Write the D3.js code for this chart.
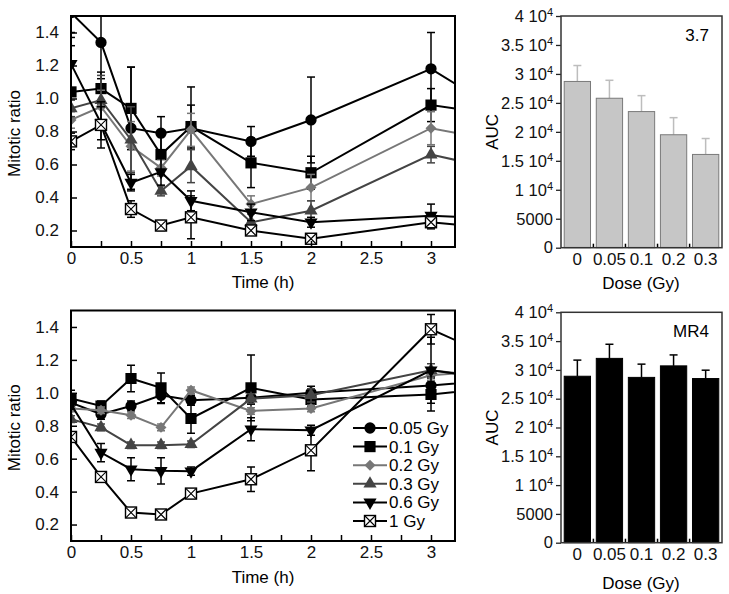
<!DOCTYPE html>
<html>
<head>
<meta charset="utf-8">
<script src="https://cdn.jsdelivr.net/npm/d3@7"></script>
<style>
body { margin: 0; background: #fff; }
svg { font-family: "Liberation Sans", Arial, sans-serif; }
</style>
</head>
<body>
<div id="chart"></div>
<script>
// time points (h); the 4 h point lies outside the visible range and is clipped
var times = [0, 0.25, 0.5, 0.75, 1, 1.5, 2, 3, 4];
var doseNames = ["0.05 Gy", "0.1 Gy", "0.2 Gy", "0.3 Gy", "0.6 Gy", "1 Gy"];

// upper panel (3.7) mitotic ratio
var r37_005 = [1.52, 1.34, 0.82, 0.79, 0.82, 0.74, 0.87, 1.18, 0.73];
var r37_01  = [1.04, 1.06, 0.94, 0.66, 0.83, 0.61, 0.55, 0.96, 0.86];
var r37_02  = [0.87, 0.95, 0.71, 0.58, 0.81, 0.36, 0.46, 0.82, 0.68];
var r37_03  = [0.94, 0.99, 0.75, 0.44, 0.59, 0.25, 0.32, 0.66, 0.50];
var r37_06  = [1.21, 0.85, 0.49, 0.555, 0.38, 0.31, 0.25, 0.29, 0.26];
var r37_1   = [0.74, 0.84, 0.33, 0.23, 0.28, 0.20, 0.15, 0.25, 0.18];
var e37_005 = [0.15, 0.22, 0.37, 0.10, 0.25, 0.09, 0.26, 0.22, 0.2];
var e37_01  = [0.28, 0.10, 0.25, 0.12, 0.13, 0.15, 0.10, 0.10, 0.1];
var e37_02  = [0.05, 0.10, 0.15, 0.05, 0.10, 0.05, 0.08, 0.10, 0.1];
var e37_03  = [0.05, 0.15, 0.20, 0.03, 0.10, 0.05, 0.06, 0.05, 0.05];
var e37_06  = [0.19, 0.10, 0.05, 0.08, 0.06, 0.05, 0.03, 0.07, 0.05];
var e37_1   = [0.05, 0.14, 0.05, 0.03, 0.13, 0.02, 0.02, 0.04, 0.04];

// lower panel (MR4) mitotic ratio
var rMR_005 = [0.94, 0.87, 0.92, 0.985, 0.955, 0.97, 1.0, 1.045, 1.10];
var rMR_01  = [0.965, 0.92, 1.087, 1.03, 0.844, 1.03, 0.96, 0.99, 1.065];
var rMR_02  = [0.905, 0.894, 0.864, 0.79, 1.016, 0.89, 0.905, 1.107, 1.16];
var rMR_03  = [0.84, 0.79, 0.682, 0.682, 0.688, 0.965, 0.985, 1.137, 1.05];
var rMR_06  = [0.93, 0.637, 0.536, 0.526, 0.524, 0.779, 0.773, 1.137, 1.04];
var rMR_1   = [0.732, 0.489, 0.273, 0.261, 0.388, 0.475, 0.651, 1.386, 1.06];
var eMR_005 = [0.05, 0.03, 0.03, 0.05, 0.03, 0.04, 0.04, 0.05, 0.05];
var eMR_01  = [0.05, 0.03, 0.08, 0.09, 0.09, 0.20, 0.04, 0.10, 0.1];
var eMR_02  = [0.02, 0.02, 0.02, 0.02, 0.02, 0.02, 0.02, 0.03, 0.03];
var eMR_03  = [0.02, 0.02, 0.02, 0.02, 0.02, 0.03, 0.04, 0.04, 0.04];
var eMR_06  = [0.03, 0.055, 0.07, 0.08, 0.025, 0.07, 0.03, 0.2, 0.1];
var eMR_1   = [0.03, 0.03, 0.02, 0.02, 0.03, 0.075, 0.125, 0.09, 0.1];

// AUC bars
var doseLabels = ["0", "0.05", "0.1", "0.2", "0.3"];
var auc37     = [28700, 25800, 23500, 19500, 16100];
var auc37Err  = [2750, 3100, 2750, 2950, 2750];
var aucMR4    = [28900, 32000, 28700, 30700, 28500];
var aucMR4Err = [2800, 2450, 2300, 1900, 1450];

var aucTicks = [0, 5000, 10000, 15000, 20000, 25000, 30000, 35000, 40000];
var ratioTicks = [0.2, 0.4, 0.6, 0.8, 1, 1.2, 1.4];
var timeTicks = [0, 0.25, 0.5, 0.75, 1, 1.25, 1.5, 1.75, 2, 2.25, 2.5, 2.75, 3];

// styles per dose
var colors = ["#000", "#000", "#777", "#444", "#000", "#000"];
var symbols = ["circle", "square", "diamond", "up", "down", "box"];

var svg = d3.select("#chart").append("svg")
    .attr("width", 729)
    .attr("height", 594);

function drawMarker(g, kind, color) {
    if (kind == "box") {
        g.append("rect").attr("x", -5.5).attr("y", -5.5).attr("width", 11).attr("height", 11)
            .attr("fill", "#fff").attr("stroke", "#000").attr("stroke-width", 1.4);
        g.append("path").attr("d", "M-5,-5L5,5M5,-5L-5,5")
            .attr("stroke", "#000").attr("stroke-width", 1.1);
        return;
    }
    var sym = d3.symbol();
    var rot = 0;
    if (kind == "circle") sym.type(d3.symbolCircle).size(100);
    if (kind == "square") sym.type(d3.symbolSquare).size(125);
    if (kind == "diamond") { sym.type(d3.symbolSquare).size(60); rot = 45; }
    if (kind == "up") sym.type(d3.symbolTriangle).size(75);
    if (kind == "down") { sym.type(d3.symbolTriangle).size(75); rot = 180; }
    g.append("path").attr("d", sym()).attr("fill", color)
        .attr("transform", "rotate(" + rot + ")");
}

function linePanel(id, top, bottom, values, errors, withLegend, titleGap) {
    var x = d3.scaleLinear().domain([0, 3.2]).range([71, 455]);
    var y = d3.scaleLinear().domain([0.1, 1.5]).range([bottom, top]);

    svg.append("clipPath").attr("id", id)
        .append("rect").attr("x", 71).attr("y", top)
        .attr("width", 384).attr("height", bottom - top);

    var plot = svg.append("g").attr("clip-path", "url(#" + id + ")");

    var line = d3.line().x((d, i) => x(times[i])).y(d => y(d));

    values.forEach(function(vals, s) {
        var g = plot.append("g");
        g.append("path").datum(vals).attr("d", line)
            .attr("fill", "none").attr("stroke", colors[s]).attr("stroke-width", 2);

        var eb = g.selectAll(".err").data(vals).enter().append("g")
            .attr("stroke", colors[s]).attr("stroke-width", 1.5);
        eb.append("line")
            .attr("x1", (d, i) => x(times[i])).attr("x2", (d, i) => x(times[i]))
            .attr("y1", (d, i) => y(d - errors[s][i])).attr("y2", (d, i) => y(d + errors[s][i]));
        eb.append("line")
            .attr("x1", (d, i) => x(times[i]) - 4).attr("x2", (d, i) => x(times[i]) + 4)
            .attr("y1", (d, i) => y(d + errors[s][i])).attr("y2", (d, i) => y(d + errors[s][i]));
        eb.append("line")
            .attr("x1", (d, i) => x(times[i]) - 4).attr("x2", (d, i) => x(times[i]) + 4)
            .attr("y1", (d, i) => y(d - errors[s][i])).attr("y2", (d, i) => y(d - errors[s][i]));

        g.selectAll(".mk").data(vals).enter().append("g")
            .attr("transform", (d, i) => "translate(" + x(times[i]) + "," + y(d) + ")")
            .each(function() { drawMarker(d3.select(this), symbols[s], colors[s]); });
    });

    var xAxis = svg.append("g").attr("transform", "translate(0," + bottom + ")")
        .call(d3.axisBottom(x).tickValues(timeTicks).tickSize(-6).tickPadding(5)
            .tickFormat(d => (d * 2) % 1 == 0 ? d : ""));
    var yAxis = svg.append("g").attr("transform", "translate(71,0)")
        .call(d3.axisLeft(y).tickValues(ratioTicks).tickSize(-6).tickPadding(12));
    [xAxis, yAxis].forEach(function(a) {
        a.select(".domain").remove();
        a.selectAll("line").attr("stroke", "#000").attr("stroke-width", 1.5);
        a.selectAll("text").attr("font-size", 17).attr("fill", "#111")
            .attr("font-family", "Liberation Sans, Arial, sans-serif");
    });

    svg.append("rect").attr("x", 71).attr("y", top).attr("width", 384).attr("height", bottom - top)
        .attr("fill", "none").attr("stroke", "#000").attr("stroke-width", 2);

    svg.append("text").attr("x", 263).attr("y", bottom + titleGap)
        .attr("text-anchor", "middle").attr("font-size", 17).text("Time (h)");
    svg.append("text")
        .attr("transform", "translate(20," + ((top + bottom) / 2 + 2) + ") rotate(-90)")
        .attr("text-anchor", "middle").attr("font-size", 17).text("Mitotic ratio");

    if (withLegend) {
        var leg = svg.append("g").selectAll("g").data(doseNames).enter().append("g")
            .attr("transform", (d, i) => "translate(353," + (428 + i * 18.6) + ")");
        leg.append("line").attr("x1", 0).attr("x2", 34)
            .attr("stroke", (d, i) => colors[i]).attr("stroke-width", 2);
        leg.append("g").attr("transform", "translate(17,0)")
            .each(function(d, i) { drawMarker(d3.select(this), symbols[i], colors[i]); });
        leg.append("text").attr("x", 36).attr("y", 6).attr("font-size", 17).text(d => d);
    }
}

function barPanel(top, bottom, values, errors, fill, stroke, errColor, tag, titleGap) {
    var x = d3.scaleBand().domain(doseLabels).range([561, 722])
        .paddingInner(0.18).paddingOuter(0.1);
    var y = d3.scaleLinear().domain([0, 40000]).range([bottom, top]);

    var g = svg.append("g");
    g.selectAll(".err").data(values).enter().append("g")
        .attr("stroke", errColor).attr("stroke-width", 1.5)
        .each(function(d, i) {
            var cx = x(doseLabels[i]) + x.bandwidth() / 2;
            d3.select(this).append("line").attr("x1", cx).attr("x2", cx)
                .attr("y1", y(d)).attr("y2", y(d + errors[i]));
            d3.select(this).append("line").attr("x1", cx - 4).attr("x2", cx + 4)
                .attr("y1", y(d + errors[i])).attr("y2", y(d + errors[i]));
        });
    g.selectAll(".bar").data(values).enter().append("rect")
        .attr("x", (d, i) => x(doseLabels[i]))
        .attr("y", d => y(d))
        .attr("width", x.bandwidth())
        .attr("height", d => bottom - y(d))
        .attr("fill", fill).attr("stroke", stroke).attr("stroke-width", 1);

    // small ticks between the bars
    var bounds = doseLabels.slice(1).map(d => x(d) - x.step() * x.paddingInner() / 2);
    g.selectAll(".bt").data(bounds).enter().append("line")
        .attr("x1", d => d).attr("x2", d => d)
        .attr("y1", bottom).attr("y2", bottom - 4)
        .attr("stroke", "#000").attr("stroke-width", 1.5);

    var yAxis = svg.append("g").attr("transform", "translate(561,0)")
        .call(d3.axisLeft(y).tickValues(aucTicks).tickSize(5).tickPadding(3).tickFormat(""));
    yAxis.select(".domain").remove();
    yAxis.selectAll("line").attr("stroke", "#222").attr("stroke-width", 1.3);
    yAxis.selectAll(".tick").each(function(d) {
        var t = d3.select(this).select("text")
            .attr("font-size", 16.5).attr("fill", "#111")
            .attr("font-family", "Liberation Sans, Arial, sans-serif");
        if (d >= 10000) {
            t.append("tspan").text(d3.format("")(d / 10000) + " 10");
            t.append("tspan").attr("font-size", 11).attr("dy", "-0.55em").text("4");
        } else {
            t.text(d);
        }
    });

    var xAxis = svg.append("g").attr("transform", "translate(0," + bottom + ")")
        .call(d3.axisBottom(x).tickSize(0).tickPadding(5));
    xAxis.select(".domain").remove();
    xAxis.selectAll("text").attr("font-size", 17).attr("fill", "#111")
        .attr("font-family", "Liberation Sans, Arial, sans-serif");

    svg.append("rect").attr("x", 561).attr("y", top).attr("width", 161).attr("height", bottom - top)
        .attr("fill", "none").attr("stroke", "#333").attr("stroke-width", 1.5);

    svg.append("text").attr("x", 641).attr("y", bottom + titleGap)
        .attr("text-anchor", "middle").attr("font-size", 17).text("Dose (Gy)");
    svg.append("text")
        .attr("transform", "translate(498," + ((top + bottom) / 2) + ") rotate(-90)")
        .attr("text-anchor", "middle").attr("font-size", 17).text("AUC");
    svg.append("text").attr("x", 709).attr("y", top + 25)
        .attr("text-anchor", "end").attr("font-size", 17).text(tag);
}

linePanel("clipTop", 16, 247,
    [r37_005, r37_01, r37_02, r37_03, r37_06, r37_1],
    [e37_005, e37_01, e37_02, e37_03, e37_06, e37_1], false, 41);
linePanel("clipBottom", 310.5, 541,
    [rMR_005, rMR_01, rMR_02, rMR_03, rMR_06, rMR_1],
    [eMR_005, eMR_01, eMR_02, eMR_03, eMR_06, eMR_1], true, 42);

barPanel(16, 247.7, auc37, auc37Err, "#c6c6c6", "#7a7a7a", "#bdbdbd", "3.7", 41);
barPanel(312.3, 542.7, aucMR4, aucMR4Err, "#000", "#000", "#000", "MR4", 46);
</script>
</body>
</html>
